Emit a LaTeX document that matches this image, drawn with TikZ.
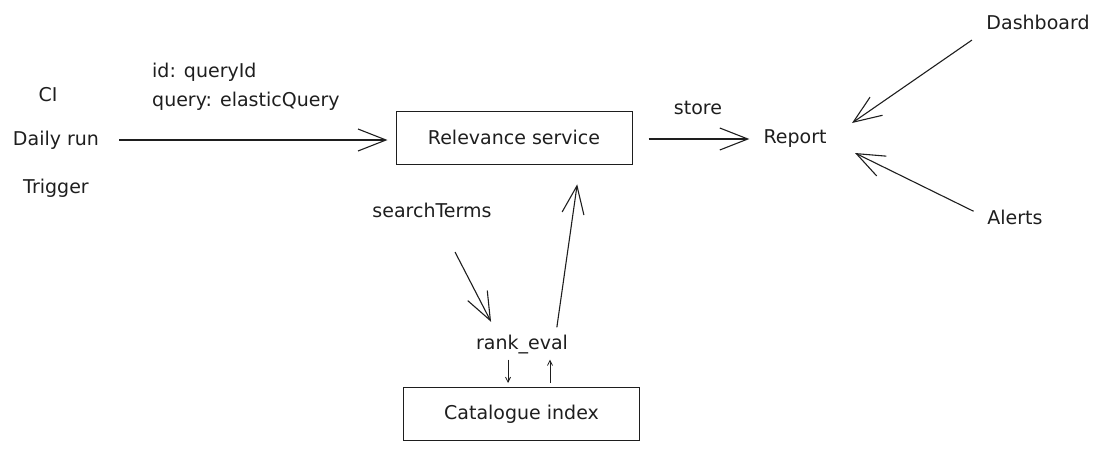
\documentclass[tikz,border=0pt]{standalone}
\usepackage{xcolor}
\usepackage{fontspec}
\setmainfont{DejaVu Sans}
\usetikzlibrary{arrows.meta}

\definecolor{ink}{HTML}{1E1E1E}

\begin{document}
\begin{tikzpicture}[x=1pt,y=-1pt,font=\fontsize{19}{22}\selectfont,color=ink]
	\useasboundingbox (0,0) rectangle (1102,450);
	\tikzstyle{txt} = [inner sep=2pt]
	\tikzstyle{service} = [draw, line width=1pt, minimum width=236pt, minimum height=53pt]
	\tikzset{edge/.style = {line width=1.1pt, -{Straight Barb[length=28pt,width=22pt]}}}
	\tikzset{tiny/.style = {line width=0.8pt, -{Straight Barb[length=5pt,width=5pt]}}}
	
	\node[txt](ci) at (48,95) {CI};
	\node[txt](daily) at (56,140) {Daily run};
	\node[txt](trigger) at (56,188) {Trigger};
	\node[txt, anchor=west](idlabel) at (150,72) {id: queryId};
	\node[txt, anchor=west](querylabel) at (150,101) {query: elasticQuery};
	
	\node[service](relevance) at (514,137.5) {Relevance service};
	\draw[edge, shorten <=18pt, shorten >=8pt](daily.east) to (daily.east -| relevance.west);
	
	\node[txt](store) at (698,108) {store};
	\node[txt](report) at (795,139) {Report};
	\draw[edge, shorten <=16pt, shorten >=12pt](relevance.east |- report) to (report.west);
	
	\node[txt](dashboard) at (1038,22) {Dashboard};
	\node[txt](alerts) at (1015,217) {Alerts};
	\coordinate (dashin) at (852,123);
	\coordinate (alertin) at (855,153);
	\draw[edge, shorten <=15pt](dashboard.south west) to (dashin);
	\draw[edge, shorten <=13pt](alerts.west) to (alertin);
	
	\node[txt](terms) at (432,210) {searchTerms};
	\node[txt](rankeval) at (522,345) {rank\_eval};
	\coordinate (termsout) at (455,252);
	\draw[edge, shorten >=13pt](termsout) to ([xshift=-25pt]rankeval.north);
	\draw[edge, shorten <=6pt, shorten >=20pt]([xshift=34pt]rankeval.north) to ([xshift=66pt]relevance.south);
	
	\node[service](catalogue) at (521.5,414) {Catalogue index};
	\draw[tiny, shorten <=3pt, shorten >=4pt]([xshift=-14pt]rankeval.south) to ([xshift=-14pt]rankeval.south |- catalogue.north);
	\draw[tiny, shorten <=4pt, shorten >=3pt]([xshift=28pt]rankeval.south |- catalogue.north) to ([xshift=28pt]rankeval.south);
	
\end{tikzpicture}
\end{document}
